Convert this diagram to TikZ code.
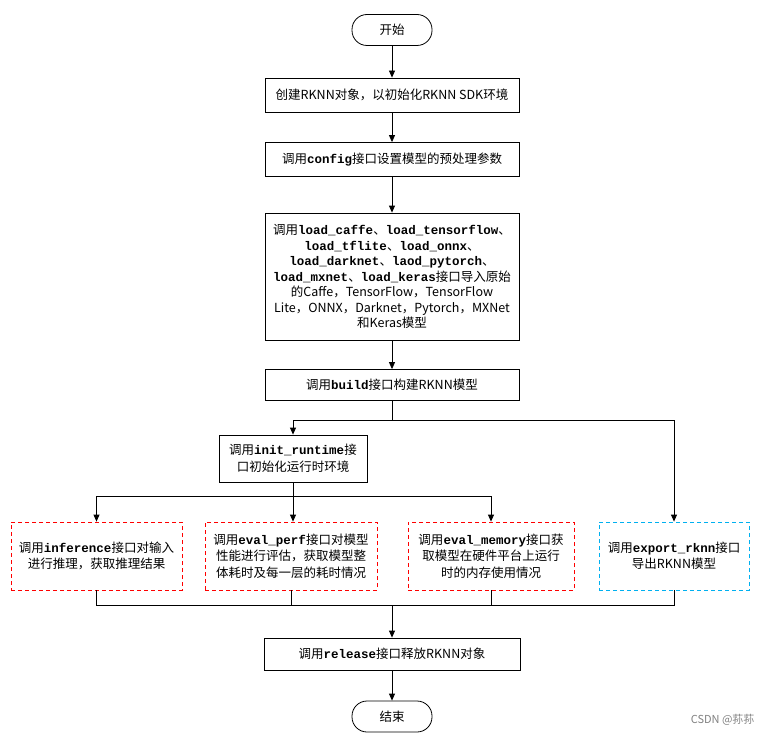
\documentclass[tikz,border=0pt]{standalone}
\usepackage{fontspec}
\setmainfont{Noto Sans CJK SC}
\setmonofont{Liberation Mono}
\usetikzlibrary{arrows.meta}
\newcommand{\cd}[1]{\textbf{\texttt{#1}}}
\begin{document}
\begin{tikzpicture}[x=1pt,y=-1pt,font=\fontsize{12.5}{16.5}\selectfont,
  box/.style={draw,thick,minimum height=34pt,inner sep=2pt,align=center},
  dbox/.style={draw,thick,dash pattern=on 4pt off 3pt,minimum height=68pt,inner sep=2pt,align=center},
  term/.style={draw,thick,rounded corners=15pt,minimum width=80pt,minimum height=31pt},
  arr/.style={-{Triangle[length=7pt,width=6pt]},thick},
  ln/.style={thick}]
\useasboundingbox (0,0) rectangle (765,738);
\node[term] (s) at (392,30) {开始};
\node[box,minimum width=254pt] (b1) at (392,95) {创建RKNN对象，以初始化RKNN SDK环境};
\node[box,minimum width=254pt] (b2) at (392,159.5) {调用\cd{config}接口设置模型的预处理参数};
\node[box,minimum width=254pt,minimum height=127pt,font=\fontsize{12.5}{15.5}\selectfont] (b3) at (392,276.5) {调用\cd{load\_caffe}、\cd{load\_tensorflow}、\\ \cd{load\_tflite}、\cd{load\_onnx}、\\ \cd{load\_darknet}、\cd{laod\_pytorch}、\\ \cd{load\_mxnet}、\cd{load\_keras}接口导入原始\\ 的Caffe，TensorFlow，TensorFlow\\ Lite，ONNX，Darknet，Pytorch，MXNet\\ 和Keras模型};
\node[box,minimum width=254pt,minimum height=31pt] (b4) at (392,385) {调用\cd{build}接口构建RKNN模型};
\node[box,minimum width=148pt,minimum height=47pt] (b5) at (293,458.5) {调用\cd{init\_runtime}接\\ 口初始化运行时环境};
\node[dbox,draw=red,minimum width=171pt] (c1) at (96.5,556) {调用\cd{inference}接口对输入\\ 进行推理，获取推理结果};
\node[dbox,draw=red,minimum width=172pt] (c2) at (291,556) {调用\cd{eval\_perf}接口对模型\\ 性能进行评估，获取模型整\\ 体耗时及每一层的耗时情况};
\node[dbox,draw=red,minimum width=166pt] (c3) at (491,556) {调用\cd{eval\_memory}接口获\\ 取模型在硬件平台上运行\\ 时的内存使用情况};
\node[dbox,draw={rgb,255:red,0;green,176;blue,240},minimum width=150pt] (c4) at (674,556) {调用\cd{export\_rknn}接口\\ 导出RKNN模型};
\node[box,minimum width=256pt,minimum height=32pt] (r) at (392,654) {调用\cd{release}接口释放RKNN对象};
\node[term] (e) at (392,716.5) {结束};
\node[text=gray,font=\fontsize{11}{13}\selectfont,anchor=east] (w) at (758,720) {CSDN @荪荪};
\draw[arr] (s) -- (b1);
\draw[arr] (b1) -- (b2);
\draw[arr] (b2) -- (b3);
\draw[arr] (b3) -- (b4);
\coordinate (j1) at (392,420);
\draw[ln] (b4) -- (j1);
\draw[ln] (j1) -- (j1 -| b5);
\draw[ln] (j1) -- (j1 -| c4);
\draw[arr] (j1 -| b5) -- (b5);
\draw[arr] (j1 -| c4) -- (c4);
\coordinate (j2) at (293,496);
\draw[ln] (b5) -- (j2);
\draw[ln] (j2 -| c1) -- (j2 -| c3);
\draw[arr] (j2 -| c1) -- (c1);
\draw[arr] (j2) -- (c2.north -| j2);
\draw[arr] (j2 -| c3) -- (c3);
\coordinate (j3) at (392,605);
\draw[ln] (c1.south) -- (c1.south |- j3) -- (c4.south |- j3) -- (c4.south);
\draw[ln] (c2.south) -- (c2.south |- j3);
\draw[ln] (c3.south) -- (c3.south |- j3);
\draw[arr] (j3) -- (r);
\draw[arr] (r) -- (e);
\end{tikzpicture}
\end{document}
